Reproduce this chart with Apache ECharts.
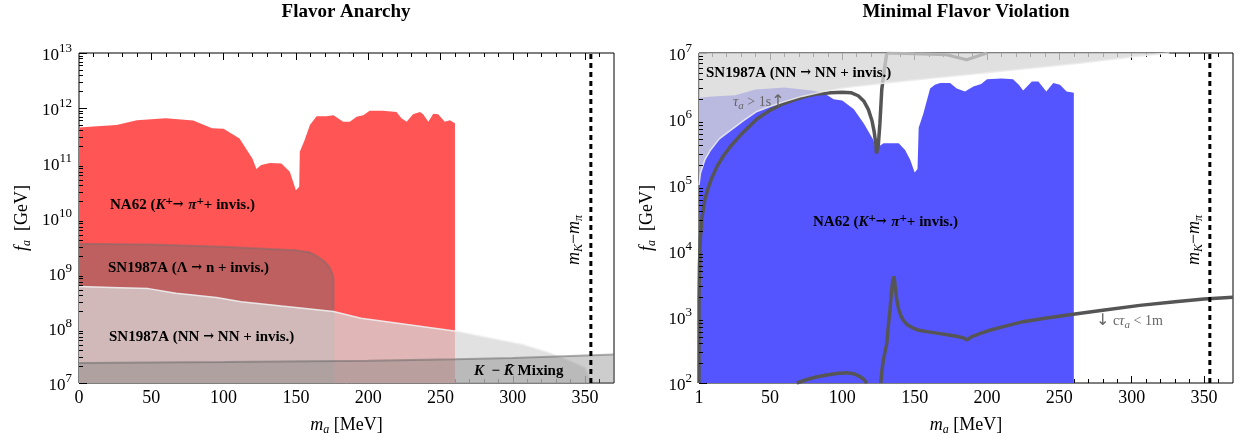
<!DOCTYPE html>
<html><head><meta charset="utf-8">
<script src="https://cdn.jsdelivr.net/npm/echarts@6/dist/echarts.min.js"></script>
<style>html,body{margin:0;padding:0;background:#fff}#c{width:1253px;height:441px}</style>
</head><body><div id="c"></div>
<script>
// ---------------- data ----------------
const xLabelsFA = [0, 50, 100, 150, 200, 250, 300, 350];
const xLabelsMFV = [1, 50, 100, 150, 200, 250, 300, 350];
const xMajorTicks = [50, 100, 150, 200, 250, 300, 350];
const xMinorTicks = [10,20,30,40,60,70,80,90,110,120,130,140,160,170,180,190,210,220,230,240,260,270,280,290,310,320,330,340,360];
const yDecadesFA = [7, 8, 9, 10, 11, 12, 13];
const yDecadesMFV = [2, 3, 4, 5, 6, 7];
const mKminusMpi = 354;

// Flavor Anarchy (left)
const na62FA = [[0,4.4e11],[10,4.6e11],[26,4.9e11],[40,6.0e11],[60,6.5e11],[79,5.9e11],[92,4.3e11],[100,4.2e11],[111,2.8e11],[120,1.2e11],[122.7,7.8e10],[126,9.2e10],[132,1.0e11],[140,9.8e10],[145.8,6.9e10],[150,3.2e10],[152.3,3.7e10],[152.7,1.6e11],[156,2.6e11],[159.7,4.9e11],[164.3,7.1e11],[171,7.1e11],[176,7.4e11],[182.7,5.6e11],[187.3,5.6e11],[192,6.9e11],[196.6,7.4e11],[201,8.9e11],[210,8.9e11],[219.6,8.5e11],[223,6.5e11],[226.6,5.6e11],[231,7.7e11],[235.8,8.5e11],[238,7.7e11],[241.6,5.6e11],[245,7.9e11],[248.4,7.7e11],[253,5.6e11],[256.5,6.0e11],[260,5.3e11]];
const sn1987LambdaFA = [[0,3.4e9],[50,3.3e9],[100,3.0e9],[150,2.6e9],[160,2.35e9],[165,2.0e9],[170,1.6e9],[173,1.3e9],[175,1.0e9],[176,8e8],[176,1e7]];
const sn1987NNFA = [[0,5.7e8],[28,5.4e8],[48,5.2e8],[67,4.3e8],[95,3.6e8],[112,3.0e8],[140,2.5e8],[176,2.0e8],[195,1.5e8],[223,1.2e8],[261,8.7e7],[279,7.0e7],[307,5.0e7],[326,3.5e7],[340,2.5e7],[350,1.9e7],[353,1.3e7],[354,1e7]];
const kkMixingFA = [[0,2.3e7],[100,2.4e7],[200,2.55e7],[260,2.7e7],[300,2.85e7],[340,3.1e7],[370,3.3e7]];

// Minimal Flavor Violation (right)
const na62MFV = [[1,2.1e6],[10,2.2e6],[26,2.3e6],[40,2.8e6],[60,3.0e6],[79,2.7e6],[87,2.5e6],[94,2.0e6],[100,1.9e6],[108,1.4e6],[115,8.5e5],[121.5,4.8e5],[123,3.6e5],[125,3.8e5],[128.5,4.3e5],[139,4.3e5],[143.4,3.4e5],[147,2.4e5],[150,1.55e5],[152,1.75e5],[152.8,7.4e5],[156,1.2e6],[160.7,2.9e6],[164,3.3e6],[167.6,3.5e6],[174.5,3.5e6],[179.1,2.9e6],[184.8,2.6e6],[190.6,3.1e6],[196,3.4e6],[200,4.0e6],[210,4.1e6],[218,4.0e6],[222,3.3e6],[225,2.7e6],[231,3.7e6],[235.5,3.7e6],[241,2.6e6],[245.8,3.5e6],[250.4,3.3e6],[255,2.6e6],[260,2.5e6]];
const sn1987NNLowerMFV = [[1,1.0e5],[2,1.5e5],[5,2.4e5],[9,3.4e5],[15,5e5],[23,6.8e5],[32,9.5e5],[41,1.3e6],[50,1.55e6],[59,1.8e6],[72,2.2e6],[87,2.6e6],[100,2.95e6],[130,3.5e6],[160,4.1e6],[200,5.0e6],[225,5.7e6],[264,7.0e6],[300,8.7e6],[326,1e7]];
const tauOneSecMFV = [[1,100],[1.05,2e3],[1.3,6e3],[2,1.6e4],[3,3.1e4],[5,6e4],[7.6,9.4e4],[10,1.3e5],[13.4,1.9e5],[18,2.8e5],[23,3.9e5],[30,5.8e5],[41,1.0e6],[50,1.35e6],[59,1.7e6],[67,1.95e6],[75,2.2e6],[83,2.4e6],[92,2.5e6],[100,2.55e6],[106,2.5e6],[111,2.25e6],[115,1.85e6],[118,1.4e6],[120.5,9.5e5],[122,6.5e5],[123.3,4.0e5],[123.6,3.0e5],[124.6,3.0e5],[124.9,4.0e5],[126,8.5e5],[127.3,2.8e6],[129,5.5e6],[130.8,1e7]];
const nnEdgeLineMFV = [[131,1e7],[150,9.7e6],[172,9.4e6],[186,7.9e6],[200,1e7]];
const cTauBumpMFV = [[68.6,100],[75,112],[82,123],[89.4,132],[96,139],[103,143],[108,138],[112.3,125],[115,113],[117,100]];
const cTauMainMFV = [[126.6,100],[127.5,160],[128.4,224],[130.8,400],[132,800],[133,1300],[134,2400],[134.9,3600],[135.8,4100],[136.5,3000],[137.7,1800],[139,1300],[140.5,1050],[142.2,890],[145,760],[149,680],[153,630],[158.4,600],[167.6,560],[174.5,530],[180,505],[184,480],[186,450],[190,510],[196,570],[202,630],[212,720],[225,850],[240,960],[259.6,1100],[280,1270],[305.6,1500],[330,1700],[350,1880],[370,2000]];

// ---------------- chart ----------------
const FONT = 'Liberation Serif';
const chart = echarts.init(document.getElementById('c'), null, {renderer: 'canvas'});

function minorLogValues(d0, d1) {
  const out = [];
  for (let n = d0; n < d1; n++) for (let k = 2; k <= 9; k++) out.push(k * Math.pow(10, n));
  return out;
}

const yLabelRich = {
  b: {fontFamily: FONT, fontSize: 17, color: '#000', lineHeight: 22, verticalAlign: 'bottom'},
  s: {fontFamily: FONT, fontSize: 13, color: '#000', lineHeight: 13, verticalAlign: 'top'}
};
const nameRich = {
  i: {fontFamily: FONT, fontSize: 18, fontStyle: 'italic', color: '#000', lineHeight: 22},
  s: {fontFamily: FONT, fontSize: 12, fontStyle: 'italic', color: '#000', lineHeight: 12, verticalAlign: 'bottom'},
  n: {fontFamily: FONT, fontSize: 18, color: '#000', lineHeight: 22}
};

function xAxesFor(gridIndex, min, labels) {
  const common = {gridIndex, type: 'value', min, max: 370, splitLine: {show: false}, axisLine: {show: false, onZero: false}};
  const tk = (len, vals) => ({show: true, inside: true, length: len, customValues: vals, lineStyle: {color: '#000', width: 1}});
  return [
    Object.assign({}, common, {position: 'bottom', axisTick: tk(7, xMajorTicks),
      axisLabel: {customValues: labels, fontFamily: FONT, fontSize: 18, color: '#000', margin: 6},
      name: '{i|m}{s|a}{n| [MeV]}', nameLocation: 'middle', nameGap: 31,
      nameTextStyle: {fontFamily: FONT, rich: nameRich}}),
    Object.assign({}, common, {position: 'bottom', axisTick: tk(4, xMinorTicks), axisLabel: {show: false}}),
    Object.assign({}, common, {position: 'top', axisTick: tk(7, xMajorTicks), axisLabel: {show: false}}),
    Object.assign({}, common, {position: 'top', axisTick: tk(4, xMinorTicks), axisLabel: {show: false}})
  ];
}
function yAxisFor(gridIndex, dmin, dmax, gap) {
  return {gridIndex, type: 'log', logBase: 10, min: Math.pow(10, dmin), max: Math.pow(10, dmax),
    position: 'left', splitLine: {show: false}, axisLine: {show: false},
    axisTick: {show: true, inside: true, length: 8, lineStyle: {color: '#000'}},
    axisLabel: {margin: 7, fontFamily: FONT, fontSize: 17, color: '#000',
      formatter: v => '{b|10}{s|' + Math.round(Math.log10(v)) + '}', rich: yLabelRich},
    name: '{i|f}{s|a}{n|  [GeV]}', nameLocation: 'middle', nameGap: gap, nameRotate: 90,
    nameTextStyle: {fontFamily: FONT, rich: nameRich}};
}
function area(xi, yi, data, fill, line, lw, origin, z) {
  return {type: 'line', xAxisIndex: xi, yAxisIndex: yi, data, symbol: 'none', smooth: false, silent: true,
    lineStyle: {color: line, width: lw}, areaStyle: {color: fill, opacity: 1, origin}, z, animation: false};
}
function curve(xi, yi, data, color, lw, z, type) {
  return {type: 'line', xAxisIndex: xi, yAxisIndex: yi, data, symbol: 'none', smooth: false, silent: true,
    lineStyle: {color, width: lw, type: type || 'solid', cap: 'butt'}, z, animation: false};
}
function minorTickSeries(xi, yi, xPos, vals) {
  return {type: 'custom', xAxisIndex: xi, yAxisIndex: yi, silent: true, z: 30, animation: false,
    data: vals.map(v => [xPos, v]),
    renderItem: (params, api) => {
      const p = api.coord([api.value(0), api.value(1)]);
      const y = Math.round(p[1]) + 0.5;
      return {type: 'line', shape: {x1: p[0], y1: y, x2: p[0] + 4, y2: y}, style: {stroke: '#000', lineWidth: 1}};
    }};
}

const boldRich = {
  b: {fontFamily: FONT, fontSize: 15, fontWeight: 'bold', fill: '#000', lineHeight: 20},
  bi: {fontFamily: FONT, fontSize: 15, fontWeight: 'bold', fontStyle: 'italic', fill: '#000', lineHeight: 20},
  ar: {fontFamily: 'DejaVu Serif', fontSize: 13, fontWeight: 'bold', fill: '#000', lineHeight: 20},
  sup: {fontFamily: FONT, fontSize: 13, fontWeight: 'bold', fill: '#000', lineHeight: 12, verticalAlign: 'top'}
};
const greyRich = {
  g: {fontFamily: FONT, fontSize: 14, fill: '#666', lineHeight: 20},
  gi: {fontFamily: FONT, fontSize: 15, fontStyle: 'italic', fill: '#666', lineHeight: 20},
  ga: {fontFamily: 'DejaVu Sans', fontSize: 16, fill: '#666', lineHeight: 20},
  gs: {fontFamily: FONT, fontSize: 11, fontStyle: 'italic', fill: '#666', lineHeight: 11, verticalAlign: 'bottom'}
};
const mkRich = {
  i: {fontFamily: FONT, fontSize: 18, fontStyle: 'italic', fill: '#000', lineHeight: 22},
  s: {fontFamily: FONT, fontSize: 12, fontStyle: 'italic', fill: '#000', lineHeight: 12, verticalAlign: 'bottom'},
  n: {fontFamily: FONT, fontSize: 18, fill: '#000', lineHeight: 22}
};
function txt(x, y, text, rich, extra) {
  return Object.assign({type: 'text', x, y, silent: true, z: 100,
    style: {text, rich, align: 'left', verticalAlign: 'middle', fontFamily: FONT, fontSize: 14}}, extra || {});
}
const na62Label = '{b|NA62 (}{bi|K}{sup|+}{ar|\u2192 }{bi|\u03c0}{sup|+}{b|+ invis.)}';

const option = {
  backgroundColor: '#fff',
  animation: false,
  textStyle: {fontFamily: FONT},
  grid: [
    {left: 79, top: 53, width: 535, height: 330, show: true, borderColor: '#000', borderWidth: 1, backgroundColor: 'transparent', outerBoundsMode: 'none', containLabel: false},
    {left: 699, top: 53, width: 534, height: 330, show: true, borderColor: '#000', borderWidth: 1, backgroundColor: 'transparent', outerBoundsMode: 'none', containLabel: false}
  ],
  xAxis: xAxesFor(0, 0, xLabelsFA).concat(xAxesFor(1, 1, xLabelsMFV)),
  yAxis: [yAxisFor(0, 7, 13, 46), yAxisFor(1, 2, 7, 41)],
  series: [
    // left panel
    area(0, 0, na62FA, '#ff5555', '#ff5555', 0, 'start', 2),
    area(0, 0, sn1987LambdaFA, 'rgba(110,110,110,0.45)', 'rgba(110,110,110,0.45)', 2, 'start', 3),
    area(0, 0, sn1987NNFA, 'rgba(215,215,215,0.75)', 'rgba(240,240,240,0.9)', 1.5, 'start', 4),
    area(0, 0, kkMixingFA, 'rgba(120,120,120,0.37)', 'rgba(100,100,100,0.5)', 2, 'start', 5),
    curve(0, 0, [[mKminusMpi, 1e7], [mKminusMpi, 1e13]], '#000', 3, 6, [5, 4]),
    minorTickSeries(0, 0, 0, minorLogValues(7, 13)),
    // right panel
    area(4, 1, na62MFV, '#5555ff', '#5555ff', 0, 'start', 2),
    curve(4, 1, tauOneSecMFV, '#555', 3.5, 3),
    curve(4, 1, cTauBumpMFV, '#555', 3.5, 3),
    curve(4, 1, cTauMainMFV, '#555', 3.5, 3),
    area(4, 1, sn1987NNLowerMFV, 'rgba(215,215,215,0.78)', 'rgba(235,235,235,0.9)', 1.5, 'end', 4),
    curve(4, 1, nnEdgeLineMFV, '#b4b4b4', 3, 5),
    curve(4, 1, [[mKminusMpi, 1e2], [mKminusMpi, 1e7]], '#000', 3, 6, [5, 4]),
    minorTickSeries(4, 1, 1, minorLogValues(2, 7))
  ],
  graphic: [
    txt(346, 12, '', null, {style: {text: 'Flavor Anarchy', align: 'center', verticalAlign: 'middle', fontFamily: FONT, fontSize: 19, fontWeight: 'bold', fill: '#000'}}),
    txt(966, 12, '', null, {style: {text: 'Minimal Flavor Violation', align: 'center', verticalAlign: 'middle', fontFamily: FONT, fontSize: 19, fontWeight: 'bold', fill: '#000'}}),
    txt(110, 205, na62Label, boldRich),
    txt(108, 268, '{b|SN1987A (\u039b }{ar|\u2192}{b| n + invis.)}', boldRich),
    txt(109, 337, '{b|SN1987A (NN }{ar|\u2192}{b| NN + invis.)}', boldRich),
    txt(474, 371, '{bi|K}{b|  \u2212 }{bi|K\u0304}{b| Mixing}', boldRich),
    txt(574, 240, '', mkRich, {rotation: Math.PI / 2, style: {text: '{i|m}{s|K}{n|\u2212}{i|m}{s|\u03c0}', rich: mkRich, align: 'center', verticalAlign: 'middle'}}),
    txt(706, 73, '{b|SN1987A (NN }{ar|\u2192}{b| NN + invis.)}', boldRich),
    txt(733, 102, '{gi|\u03c4}{gs|a}{g| > 1s}{ga|\u2191}', greyRich),
    txt(813, 222, na62Label, boldRich),
    txt(1096, 321, '{ga|\u2193}{g| c}{gi|\u03c4}{gs|a}{g| < 1m}', greyRich),
    txt(1194, 240, '', mkRich, {rotation: Math.PI / 2, style: {text: '{i|m}{s|K}{n|\u2212}{i|m}{s|\u03c0}', rich: mkRich, align: 'center', verticalAlign: 'middle'}})
  ]
};
chart.setOption(option);
</script></body></html>
